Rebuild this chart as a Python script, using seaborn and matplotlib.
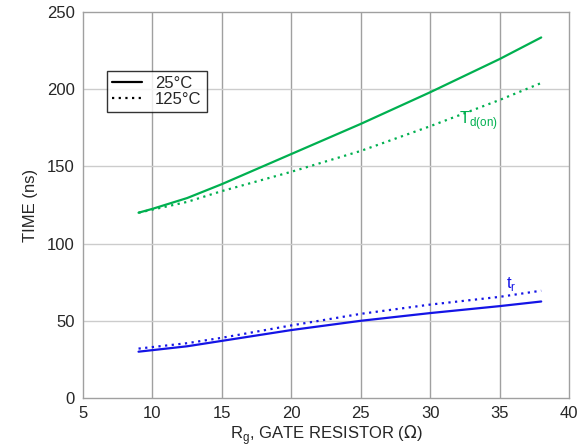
import matplotlib
matplotlib.use("Agg")
import matplotlib.pyplot as plt
import seaborn as sns
import pandas as pd
from matplotlib.lines import Line2D

# gate resistor values (ohm)
rg = [9, 10, 12.5, 15, 20, 25, 30, 35, 38]

# turn-on delay time (ns)
td_on_25 = [120, 122.5, 129.5, 138.5, 158, 177.5, 198, 219.5, 233.5]
td_on_125 = [120, 122, 127, 134, 146.5, 160, 176, 193, 204]

# rise time (ns)
tr_25 = [30, 31, 33.5, 37, 44, 50, 55, 59.5, 62.5]
tr_125 = [32, 33, 35.5, 39, 47, 54.5, 60.5, 65.5, 69.5]

x_ticks = [5, 10, 15, 20, 25, 30, 35, 40]
y_ticks = [0, 50, 100, 150, 200, 250]

GREEN = "#00B050"
BLUE = "#1414E6"

sns.set_style("white")
plt.rcParams["font.family"] = ["Liberation Sans", "DejaVu Sans"]

fig = plt.figure(figsize=(5.87, 4.47), dpi=100)
ax = fig.add_axes([0.1414, 0.1096, 0.8279, 0.8636])

dotted = (0, (1, 2))
series = [
    (td_on_25, GREEN, "-"),
    (td_on_125, GREEN, dotted),
    (tr_25, BLUE, "-"),
    (tr_125, BLUE, dotted),
]
for vals, col, ls in series:
    df = pd.DataFrame({"rg": rg, "t": vals})
    sns.lineplot(data=df, x="rg", y="t", ax=ax, color=col, lw=1.6,
                 linestyle=ls, zorder=3)

ax.set_xlim(5, 40)
ax.set_ylim(0, 250)
ax.set_xticks(x_ticks)
ax.set_yticks(y_ticks)
ax.tick_params(axis="both", labelsize=12, length=0, pad=6)

# grid: vertical darker, horizontal lighter
for xv in x_ticks[1:-1]:
    ax.axvline(xv, color="#a0a0a0", lw=1.0, zorder=1)
for yv in y_ticks[1:-1]:
    ax.axhline(yv, color="#cccccc", lw=1.0, zorder=1)
for sp in ax.spines.values():
    sp.set_color("#a0a0a0")
    sp.set_linewidth(1.0)

ax.set_xlabel(r"R$_\mathregular{g}$, GATE RESISTOR ($\Omega$)", fontsize=12, labelpad=1)
ax.set_ylabel("TIME (ns)", fontsize=12, labelpad=6)

ax.text(32.1, 180, r"T$_\mathregular{d(on)}$", color=GREEN, fontsize=12,
        ha="left", va="center")
ax.text(35.5, 74, r"t$_\mathregular{r}$", color=BLUE, fontsize=12,
        ha="left", va="center")

handles = [Line2D([], [], color="black", lw=1.6, linestyle="-"),
           Line2D([], [], color="black", lw=1.6, linestyle=dotted)]
leg = ax.legend(handles, ["25°C", "125°C"], loc="upper left",
                bbox_to_anchor=(0.049, 0.848), fontsize=12, frameon=True,
                fancybox=False, borderpad=0.3, labelspacing=0.1,
                handlelength=1.8, handletextpad=0.8, borderaxespad=0)
leg.get_frame().set_edgecolor("black")
leg.get_frame().set_linewidth(1.0)

fig.savefig("out.png", dpi=100)
